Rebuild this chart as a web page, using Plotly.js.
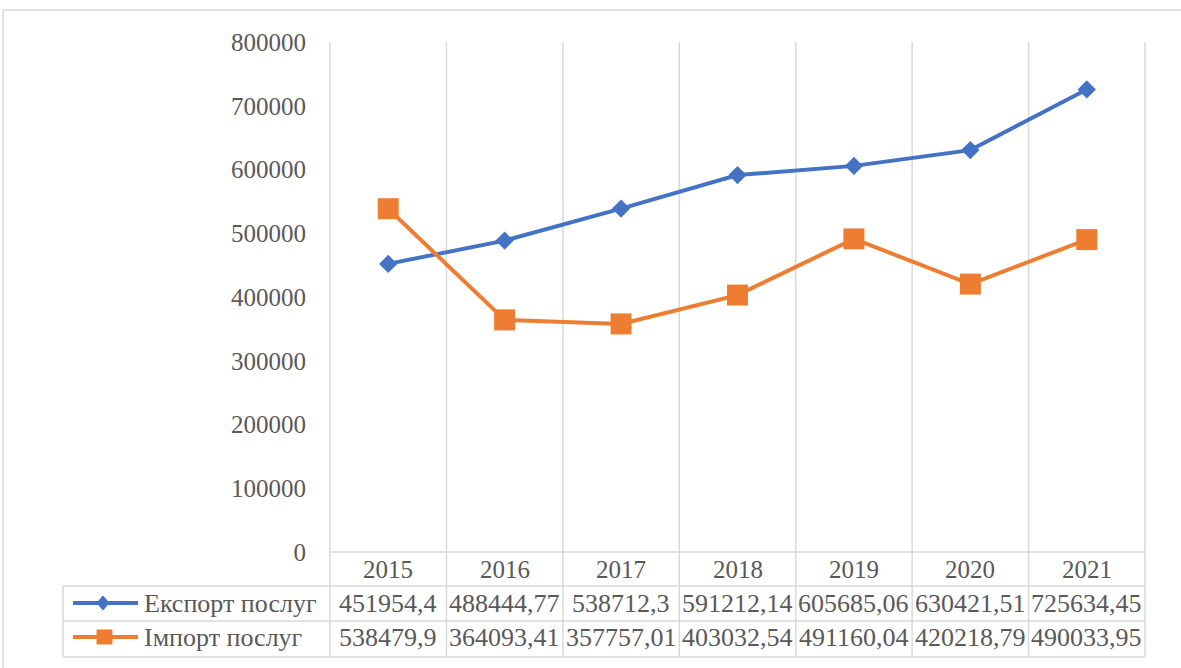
<!DOCTYPE html>
<html>
<head>
<meta charset="utf-8">
<script src="https://cdn.plot.ly/plotly-3.0.1.min.js"></script>
<style>html,body{margin:0;padding:0;background:#fff;font-family:'Liberation Serif';}#chart{width:1181px;height:668px;font-family:'Liberation Serif';}</style>
</head>
<body>
<div id="chart"></div>
<script>
const years = ['2015','2016','2017','2018','2019','2020','2021'];
const exportName = 'Експорт послуг';
const importName = 'Імпорт послуг';
const exportValues = [451954.4, 488444.77, 538712.3, 591212.14, 605685.06, 630421.51, 725634.45];
const importValues = [538479.9, 364093.41, 357757.01, 403032.54, 491160.04, 420218.79, 490033.95];
const yTicks = [0, 100000, 200000, 300000, 400000, 500000, 600000, 700000, 800000];

const W = 1181, H = 668;
const L = 330, R = 1145, T = 42, B = 552;
const px = x => (x - L) / (R - L);
const py = y => (B - y) / (B - T);
const fmt = v => String(v).replace('.', ',');

const blue = '#4472C4', orange = '#ED7D31', grid = '#d9d9d9', txt = '#595959';
const fontFam = 'Liberation Serif';

const xs = years.map((_, i) => i);
const traces = [
  {x: xs, y: exportValues, name: exportName, type: 'scatter', mode: 'lines+markers',
   line: {color: blue, width: 4}, marker: {symbol: 'diamond', size: 14, color: blue}},
  {x: xs, y: importValues, name: importName, type: 'scatter', mode: 'lines+markers',
   line: {color: orange, width: 4}, marker: {symbol: 'square', size: 21, color: orange}}
];

const rowYear = 569, rowExp = 603, rowImp = 637;
const lineY = [586, 621, 657];
const shapes = [];
shapes.push({type: 'line', xref: 'paper', yref: 'paper', x0: px(3), x1: px(1181), y0: py(10), y1: py(10), line: {color: grid, width: 1.5}});
shapes.push({type: 'line', xref: 'paper', yref: 'paper', x0: px(3), x1: px(3), y0: py(10), y1: py(668), line: {color: grid, width: 1.5}});
for (let i = 0; i <= years.length; i++) {
  const xp = i / years.length;
  shapes.push({type: 'line', xref: 'paper', yref: 'paper', x0: xp, x1: xp, y0: 1, y1: py(657), line: {color: grid, width: 1.5}, layer: 'below'});
}
shapes.push({type: 'line', xref: 'paper', yref: 'paper', x0: 0, x1: 1, y0: 0, y1: 0, line: {color: grid, width: 1.5}, layer: 'below'});
lineY.forEach(y => shapes.push({type: 'line', xref: 'paper', yref: 'paper', x0: px(63), x1: 1, y0: py(y), y1: py(y), line: {color: grid, width: 1.5}}));
shapes.push({type: 'line', xref: 'paper', yref: 'paper', x0: px(63), x1: px(63), y0: py(586), y1: py(657), line: {color: grid, width: 1.5}});
shapes.push({type: 'line', xref: 'paper', yref: 'paper', x0: px(73), x1: px(138), y0: py(rowExp), y1: py(rowExp), line: {color: blue, width: 4}});
shapes.push({type: 'path', xref: 'paper', yref: 'paper',
  path: `M ${px(97)} ${py(rowExp)} L ${px(103)} ${py(rowExp-7)} L ${px(109)} ${py(rowExp)} L ${px(103)} ${py(rowExp+7)} Z`,
  fillcolor: blue, line: {color: blue, width: 1}});
shapes.push({type: 'line', xref: 'paper', yref: 'paper', x0: px(73), x1: px(138), y0: py(rowImp), y1: py(rowImp), line: {color: orange, width: 4}});
shapes.push({type: 'rect', xref: 'paper', yref: 'paper', x0: px(97), x1: px(112), y0: py(rowImp-7), y1: py(rowImp+7), fillcolor: orange, line: {color: orange, width: 1}});

const yearFont = {family: fontFam, size: 25, color: txt};
const cellFont = {family: fontFam, size: 26, color: txt};
const annotations = [];
years.forEach((yr, i) => {
  annotations.push({x: i, xref: 'x', y: py(rowYear), yref: 'paper', text: yr, showarrow: false, font: yearFont, xanchor: 'center', yanchor: 'middle'});
  annotations.push({x: i, xref: 'x', y: py(rowExp), yref: 'paper', text: fmt(exportValues[i]), showarrow: false, font: cellFont, xanchor: 'center', yanchor: 'middle'});
  annotations.push({x: i, xref: 'x', y: py(rowImp), yref: 'paper', text: fmt(importValues[i]), showarrow: false, font: cellFont, xanchor: 'center', yanchor: 'middle'});
});
annotations.push({x: px(142), xref: 'paper', y: py(rowExp), yref: 'paper', text: exportName, showarrow: false, font: cellFont, xanchor: 'left', yanchor: 'middle'});
annotations.push({x: px(142), xref: 'paper', y: py(rowImp), yref: 'paper', text: importName, showarrow: false, font: cellFont, xanchor: 'left', yanchor: 'middle'});

const layout = {
  width: W, height: H,
  margin: {l: L, r: W - R, t: T, b: H - B, pad: 0},
  font: {family: fontFam, size: 24, color: txt},
  paper_bgcolor: '#fff', plot_bgcolor: 'rgba(0,0,0,0)',
  showlegend: false,
  xaxis: {range: [-0.5, years.length - 0.5], showgrid: false, zeroline: false, showline: false, showticklabels: false, ticks: '', fixedrange: true},
  yaxis: {range: [0, 800000], tickvals: yTicks, ticktext: yTicks.map(String), showgrid: false, zeroline: false, showline: false, ticks: '',
          ticklabelstandoff: 23, tickfont: {family: fontFam, size: 25, color: txt}, fixedrange: true},
  shapes: shapes,
  annotations: annotations
};

Plotly.newPlot('chart', traces, layout, {displayModeBar: false, staticPlot: true});
</script>
</body>
</html>
